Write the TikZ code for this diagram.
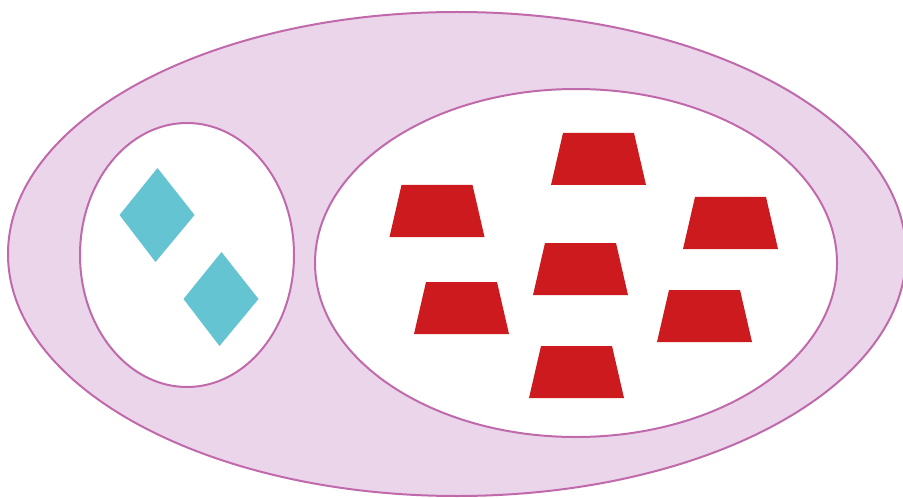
\documentclass[tikz,border=0pt]{standalone}
\usepackage{tikz}

\definecolor{setfill}{HTML}{EBD5EA}
\definecolor{setline}{HTML}{C06AAB}
\definecolor{blockred}{HTML}{CC1A1E}
\definecolor{gemcyan}{HTML}{64C4D2}

\begin{document}
\begin{tikzpicture}[
    x=0.5pt, y=-0.5pt,
    outerset/.style={draw=setline, line width=1pt, fill=setfill},
    innerset/.style={draw=setline, line width=1pt, fill=white},
    block/.style={fill=blockred},
    gem/.style={fill=gemcyan},
]
    \useasboundingbox (0,0) rectangle (903,497);

    %==================== sets ====================
    \path[outerset] (457,254) ellipse [x radius=449, y radius=242];
    \path[innerset] (187,255) ellipse [x radius=107, y radius=132];
    \path[innerset] (576,263) ellipse [x radius=261, y radius=174];

    %==================== diamonds (left set) ====================
    \foreach \cx/\cy in {156.5/215, 220.5/299}
        \path[gem] (\cx+1,\cy-47) -- (\cx+38,\cy) -- (\cx-1,\cy+47)
                   -- (\cx-37,\cy) -- cycle;

    %==================== trapezoids (right set) ====================
    \foreach \cx/\cy in {598.5/159, 437/211, 730.5/223, 580.5/269,
                         461.5/308, 704.5/316, 576.5/372}
        \path[block] (\cx-35.5,\cy-26) -- (\cx+35.5,\cy-26)
                     -- (\cx+47.5,\cy+26) -- (\cx-47.5,\cy+26) -- cycle;

\end{tikzpicture}
\end{document}
